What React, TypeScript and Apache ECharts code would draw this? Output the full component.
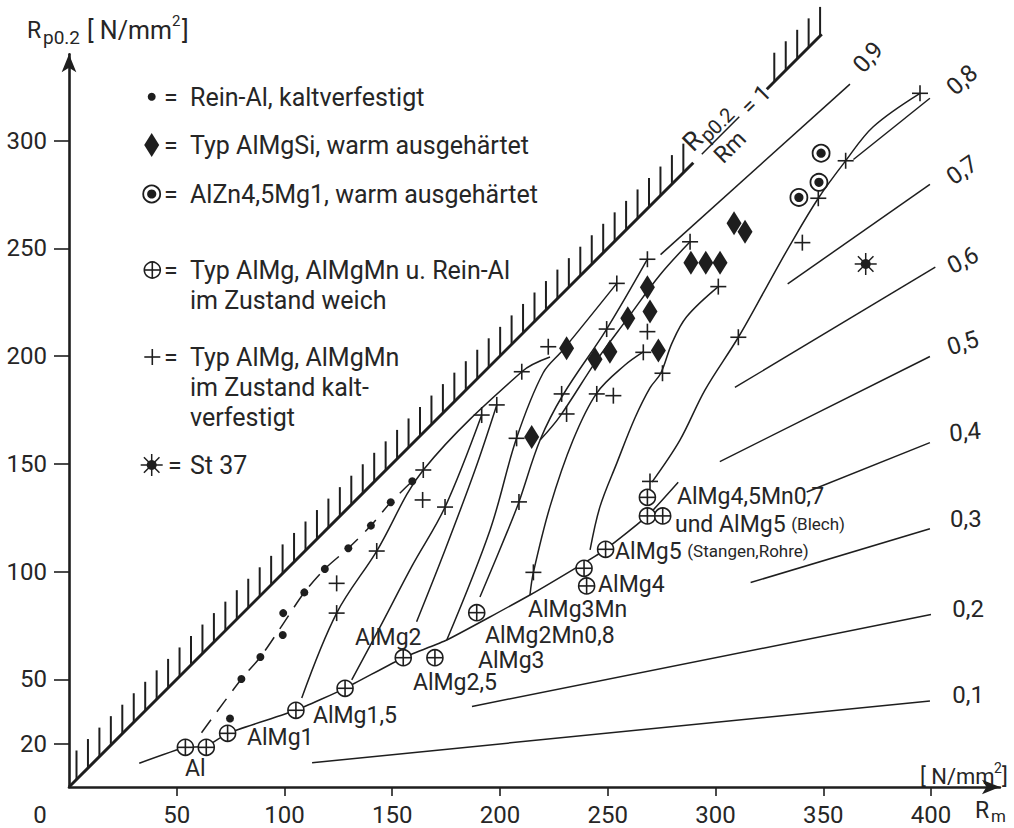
import React, { useEffect, useRef } from 'react';
import * as echarts from 'echarts';

const INK = '#1e1e1e';
const TXT = '#262626';
const FONT = 'Roboto, "DejaVu Sans", sans-serif';

const X_MAX = 432;
const Y_MAX = 340;
const xTicks = [50, 100, 150, 200, 250, 300, 350, 400];
const yTicks = [20, 50, 100, 150, 200, 250, 300];

// ⊕ soft state
const softPoints = [
  [54.0, 18.4], [63.7, 18.4], [73.6, 24.9], [105.3, 35.6], [128.1, 45.8], [155.1, 60.0],
  [169.8, 60.0], [189.2, 80.9], [239.0, 101.5], [240.2, 93.3], [249.0, 110.3],
  [268.4, 125.8], [275.5, 125.8], [268.4, 134.4],
];
const softLine = [
  [32.6, 11.0], [54.0, 18.4], [63.7, 18.9], [73.6, 24.9], [105.3, 35.6], [128.1, 45.8],
  [155.1, 60.0], [175.3, 68.2], [213.9, 89.1], [238.7, 103.8], [249.0, 110.3],
  [268.4, 125.8], [282.7, 141.4],
];
// • Rein-Al kaltverfestigt
const pureAlDots = [
  [74.7, 31.8], [80.0, 50.1], [88.8, 60.3], [99.2, 70.5], [99.4, 80.7], [109.2, 90.3],
  [118.7, 101.2], [129.6, 110.8], [140.1, 121.3], [149.3, 132.1], [159.3, 141.9],
];
const pureAlLine = [
  [61.5, 25.2], [80.0, 50.1], [88.8, 60.3], [99.3, 75.6], [109.2, 90.3], [118.7, 101.2],
  [129.6, 110.8], [140.1, 121.3], [149.3, 132.1], [159.3, 141.9],
];
// + cold worked
const coldWorked = [
  [124.2, 94.5], [124.2, 80.7], [142.8, 109.5], [164.4, 147.1], [164.1, 133.2], [174.5, 129.9],
  [191.5, 172.6], [198.5, 177.3], [210.1, 192.7], [222.4, 204.3], [254.2, 233.7], [268.4, 244.9],
  [288.2, 253.0], [228.6, 182.4], [230.9, 173.1], [207.7, 161.8], [249.5, 212.5], [244.9, 182.4],
  [252.6, 181.6], [268.4, 211.3], [266.5, 201.7], [275.4, 192.0], [301.3, 232.2], [310.6, 208.7],
  [347.7, 273.2], [360.4, 290.6], [394.9, 321.9], [340.3, 252.6], [208.8, 132.3], [269.6, 141.8],
  [215.5, 99.6],
];
// ◆ AlMgSi
const alMgSi = [
  [214.7, 162.4], [230.9, 203.6], [244.1, 198.5], [251.0, 202.0], [259.3, 217.5], [268.4, 231.9],
  [269.6, 220.7], [273.5, 202.5], [288.6, 243.3], [295.5, 243.3], [302.1, 243.3], [308.6, 261.6],
  [313.7, 257.7],
];
// ⊙ AlZn4,5Mg1
const alZnMg = [[338.7, 273.6], [348.0, 280.6], [349.0, 294.1]];
// ✱ St 37
const st37 = [[369.7, 242.7]];

// cold-working curves
const curveA = [[108.0, 41.3], [124.2, 80.7], [142.8, 109.5], [164.4, 147.1], [210.1, 192.7], [223.2, 199.5]];
const curveB = [[131.2, 49.7], [144.3, 74.2], [159.2, 102.6], [174.5, 129.9], [191.5, 172.6]];
const curveC = [[161.3, 76.7], [174.5, 110.0], [188.4, 147.1], [198.5, 177.3]];
const curveD = [[175.3, 68.2], [195.4, 119.3], [207.7, 161.9], [220.0, 192.1], [229.2, 202.8], [254.2, 233.7]];
const curveE = [[190.7, 88.2], [203.7, 119.3], [208.8, 132.3], [218.6, 161.0], [229.2, 181.9], [249.5, 212.5], [268.4, 244.9]];
const curveF = [[218.6, 161.0], [227.8, 172.0], [244.9, 198.1], [259.3, 217.6], [274.2, 237.6], [288.2, 253.0]];
const curveG = [[213.9, 89.1], [215.5, 99.6], [223.2, 130.1], [233.9, 161.0], [244.9, 182.8], [258.0, 195.8], [266.5, 201.9]];
const curveH = [[241.8, 110.0], [246.4, 130.1], [254.2, 150.3], [262.6, 171.2], [269.6, 185.2], [274.6, 192.0], [279.8, 206.0], [286.6, 218.2], [301.3, 232.2]];
const curveI = [[270.5, 141.5], [283.5, 161.0], [295.1, 184.2], [310.6, 208.7], [323.8, 232.2], [334.6, 251.5], [347.7, 273.2], [360.4, 290.6], [373.2, 306.4], [394.9, 321.9]];
const curves = [curveA, curveB, curveC, curveD, curveE, curveF, curveG, curveH, curveI];

// ratio lines Rp0.2/Rm = r
const ratioValues = [0.1, 0.2, 0.3, 0.4, 0.5, 0.6, 0.7, 0.8, 0.9];
const ratioFrom = [112.8, 187.0, 316.3, 342.3, 302.0, 309.0, 333.5, 364.0, 274.5];
const ratioTo = [399.5, 400.0, 399.5, 399.5, 399.5, 402.0, 399.5, 399.5, 362.4];
const ratioLabels = ['0,1', '0,2', '0,3', '0,4', '0,5', '0,6', '0,7', '0,8', '0,9'];
const ratioLabelAnchors = [
  [417.2, 42.7], [417.2, 82.6], [416.2, 124.4], [415.8, 164.7], [414.8, 206.0],
  [414.8, 244.5], [414.4, 286.3], [414.4, 328.1], [370.8, 338.7],
];
const ratioLabelAngles = [0, 0, 0, 5, 18, 27, 35, 42, 48];

// boundary Rp0.2 = Rm (hatched), split around its label
const boundarySegments = [[0, 289.7], [323.8, 349.3]];
const boundaryLabelAnchor = [[302.5, 302.5]];

// alloy labels
const pointLabelTexts = [
  'Al', 'AlMg1', 'AlMg1,5', 'AlMg2', 'AlMg2,5', 'AlMg3', 'AlMg2Mn0,8', 'AlMg3Mn', 'AlMg4',
  'AlMg5 {s|(Stangen,Rohre)}', 'AlMg4,5Mn0,7', 'und AlMg5 {s|(Blech)}',
];
const pointLabelAnchors = [
  [53.8, 8.8], [82.6, 23.2], [113.2, 33.4], [132.7, 69.6], [159.6, 48.7], [189.8, 58.8],
  [193.0, 70.4], [213.0, 82.4], [245.5, 93.8], [253.4, 109.5], [282.1, 135.0], [281.2, 122.0],
];

// ---------- drawing helpers (pixel space) ----------
const ln = (x1: number, y1: number, x2: number, y2: number, w = 1.6) => ({
  type: 'line', shape: { x1, y1, x2, y2 }, style: { stroke: INK, lineWidth: w },
});
const plusEls = (cx: number, cy: number) => [ln(cx - 8, cy, cx + 8, cy), ln(cx, cy - 8, cx, cy + 8)];
const oplusEls = (cx: number, cy: number) => [
  { type: 'circle', shape: { cx, cy, r: 8 }, style: { fill: '#fff', stroke: INK, lineWidth: 1.6 } },
  ln(cx - 8, cy, cx + 8, cy), ln(cx, cy - 8, cx, cy + 8),
];
const odotEls = (cx: number, cy: number) => [
  { type: 'circle', shape: { cx, cy, r: 8.5 }, style: { fill: '#fff', stroke: INK, lineWidth: 1.8 } },
  { type: 'circle', shape: { cx, cy, r: 4.6 }, style: { fill: INK } },
];
const diamondEls = (cx: number, cy: number) => [
  { type: 'polygon', shape: { points: [[cx, cy - 12], [cx + 7.5, cy], [cx, cy + 12], [cx - 7.5, cy]] }, style: { fill: INK } },
];
const dotEls = (cx: number, cy: number) => [{ type: 'circle', shape: { cx, cy, r: 4 }, style: { fill: INK } }];
const starEls = (cx: number, cy: number) => {
  const els: any[] = [];
  for (let k = 0; k < 8; k++) {
    const a = (k * Math.PI) / 4;
    els.push(ln(cx, cy, cx + 11 * Math.cos(a), cy + 11 * Math.sin(a), 1.5));
  }
  els.push({ type: 'circle', shape: { cx, cy, r: 5 }, style: { fill: INK } });
  return els;
};

const markerSeries = (name: string, data: number[][], draw: (x: number, y: number) => any[]) => ({
  type: 'custom', name, coordinateSystem: 'cartesian2d', data, encode: { x: 0, y: 1 }, z: 10, silent: true,
  renderItem: (_p: any, api: any) => {
    const p = api.coord([api.value(0), api.value(1)]);
    return { type: 'group', children: draw(p[0], p[1]) };
  },
});

const txt = (x: number, y: number, text: string, fontSize: number, extra: any = {}) => ({
  type: 'text', x, y,
  style: { text, fontSize, fontFamily: FONT, fill: TXT, align: 'left', verticalAlign: 'middle', ...extra },
});

export default function App() {
  const ref = useRef<HTMLDivElement>(null);
  useEffect(() => {
    document.body.style.margin = '0';
    const chart = echarts.init(ref.current!, undefined, { renderer: 'svg' });

    const series: any[] = [];
    ratioValues.forEach((r, i) => {
      series.push({
        type: 'line', symbol: 'none', silent: true, z: 2,
        data: [[ratioFrom[i], r * ratioFrom[i]], [ratioTo[i], r * ratioTo[i]]],
        lineStyle: { color: INK, width: 1.5 },
      });
    });
    curves.forEach((c) => {
      series.push({
        type: 'line', symbol: 'none', silent: true, z: 3, smooth: 0.35, data: c,
        lineStyle: { color: INK, width: 1.5 },
      });
    });
    series.push({
      type: 'line', symbol: 'none', silent: true, z: 3, smooth: 0.15, data: softLine,
      lineStyle: { color: INK, width: 1.5 },
    });
    series.push({
      type: 'line', symbol: 'none', silent: true, z: 3, smooth: 0.3, data: pureAlLine,
      lineStyle: { color: INK, width: 1.5, type: [16, 10] },
    });
    // hatched boundary
    series.push({
      type: 'custom', coordinateSystem: 'cartesian2d', data: boundarySegments, encode: { x: 0, y: 1 }, z: 4, silent: true,
      renderItem: (_p: any, api: any) => {
        const x0 = api.value(0), x1 = api.value(1);
        const a = api.coord([x0, x0]);
        const b = api.coord([x1, x1]);
        const children: any[] = [ln(a[0], a[1], b[0], b[1], 3)];
        for (let px = a[0] + 7.5; px <= b[0] - 1; px += 11.45) {
          const t = (px - a[0]) / (b[0] - a[0]);
          const py = a[1] + t * (b[1] - a[1]);
          children.push(ln(px, py, px, py - 29, 2));
        }
        return { type: 'group', children };
      },
    });
    // boundary label Rp0.2/Rm = 1
    series.push({
      type: 'custom', coordinateSystem: 'cartesian2d', data: boundaryLabelAnchor, encode: { x: 0, y: 1 }, z: 4, silent: true,
      renderItem: (_p: any, api: any) => {
        const p = api.coord([api.value(0), api.value(1)]);
        return {
          type: 'group', x: p[0], y: p[1], rotation: Math.PI / 4,
          children: [
            { type: 'text', x: -32, y: -16, style: { text: 'R', fontSize: 26, fontFamily: FONT, fill: TXT, align: 'left', verticalAlign: 'middle' } },
            { type: 'text', x: -15, y: -10, style: { text: 'p0.2', fontSize: 20, fontFamily: FONT, fill: TXT, align: 'left', verticalAlign: 'middle' } },
            ln(-27, 0, 26, 0, 1.5),
            { type: 'text', x: -2, y: 15, style: { text: 'Rm', fontSize: 23, fontFamily: FONT, fill: TXT, align: 'center', verticalAlign: 'middle' } },
            { type: 'text', x: 34, y: 0, style: { text: '= 1', fontSize: 23, fontFamily: FONT, fill: TXT, align: 'left', verticalAlign: 'middle' } },
          ],
        };
      },
    });
    series.push(markerSeries('Rein-Al', pureAlDots, dotEls));
    series.push(markerSeries('weich', softPoints, oplusEls));
    series.push(markerSeries('kaltverfestigt', coldWorked, plusEls));
    series.push(markerSeries('AlMgSi', alMgSi, diamondEls));
    series.push(markerSeries('AlZn4,5Mg1', alZnMg, odotEls));
    series.push(markerSeries('St 37', st37, starEls));
    // alloy labels
    series.push({
      type: 'custom', coordinateSystem: 'cartesian2d', data: pointLabelAnchors, encode: { x: 0, y: 1 }, z: 12, silent: true,
      renderItem: (params: any, api: any) => {
        const p = api.coord([api.value(0), api.value(1)]);
        return {
          type: 'text', x: p[0], y: p[1],
          style: {
            text: pointLabelTexts[params.dataIndex], fontSize: 23, lineHeight: 23, fontFamily: FONT, fill: TXT,
            align: 'left', verticalAlign: 'middle',
            rich: { s: { fontSize: 17, lineHeight: 23, fontFamily: FONT, fill: TXT, verticalAlign: 'middle' } },
          },
        };
      },
    });
    // ratio labels
    series.push({
      type: 'custom', coordinateSystem: 'cartesian2d', data: ratioLabelAnchors, encode: { x: 0, y: 1 }, z: 12, silent: true,
      renderItem: (params: any, api: any) => {
        const p = api.coord([api.value(0), api.value(1)]);
        return {
          type: 'text', x: p[0], y: p[1], rotation: (ratioLabelAngles[params.dataIndex] * Math.PI) / 180,
          style: { text: ratioLabels[params.dataIndex], fontSize: 24, fontFamily: FONT, fill: TXT, align: 'center', verticalAlign: 'middle' },
        };
      },
    });

    const legendEls: any[] = [
      ...dotEls(151.7, 96.7),
      ...diamondEls(151.7, 145),
      ...odotEls(151.7, 194),
      ...oplusEls(152.3, 270),
      ...plusEls(152.3, 357),
      ...starEls(151.7, 465),
      txt(164, 97, '=', 25), txt(190, 97, 'Rein-Al, kaltverfestigt', 25),
      txt(164, 145, '=', 25), txt(190, 145, 'Typ AlMgSi, warm ausgehärtet', 25),
      txt(164, 194, '=', 25), txt(190, 194, 'AlZn4,5Mg1, warm ausgehärtet', 25),
      txt(164, 270, '=', 25), txt(190, 270, 'Typ AlMg, AlMgMn u. Rein-Al', 25),
      txt(190, 300, 'im Zustand weich', 25),
      txt(164, 357, '=', 25), txt(190, 357, 'Typ AlMg, AlMgMn', 25),
      txt(190, 387, 'im Zustand kalt-', 25),
      txt(190, 417, 'verfestigt', 25),
      txt(168, 465, '=', 25), txt(190, 465, 'St 37', 25),
      // axis titles
      txt(27, 30, 'R', 23), txt(43, 37, 'p0.2', 19),
      txt(87, 30, '[ N/mm', 25), txt(172, 21, '2', 15), txt(182, 30, ']', 25),
      txt(920, 776, '[ N/mm', 22), txt(994, 768, '2', 14), txt(1002, 776, ']', 22),
      txt(975, 810, 'R', 23), txt(991, 816, 'm', 17),
      txt(40, 815, '0', 24, { align: 'center' }),
    ];

    chart.setOption({
      animation: false,
      backgroundColor: '#ffffff',
      grid: { left: 69, top: 787 - Y_MAX * 2.155, width: X_MAX * 2.155, height: Y_MAX * 2.155, containLabel: false },
      xAxis: {
        type: 'value', min: 0, max: X_MAX,
        axisLine: { show: true, symbol: ['none', 'arrow'], symbolSize: [11, 18], lineStyle: { color: INK, width: 2.6 } },
        axisTick: { show: true, customValues: xTicks, length: 9, lineStyle: { color: INK, width: 1.6 } },
        axisLabel: { customValues: xTicks, margin: 16, fontSize: 24, fontFamily: FONT, color: TXT },
        splitLine: { show: false },
      },
      yAxis: {
        type: 'value', min: 0, max: Y_MAX,
        axisLine: { show: true, symbol: ['none', 'arrow'], symbolSize: [11, 18], lineStyle: { color: INK, width: 2.6 } },
        axisTick: { show: true, customValues: yTicks, length: 15, lineStyle: { color: INK, width: 1.6 } },
        axisLabel: { customValues: yTicks, margin: 22, fontSize: 24, fontFamily: FONT, color: TXT },
        splitLine: { show: false },
      },
      graphic: { elements: legendEls },
      series,
    });
    return () => chart.dispose();
  }, []);
  return <div ref={ref} style={{ width: 1014, height: 828 }} />;
}
